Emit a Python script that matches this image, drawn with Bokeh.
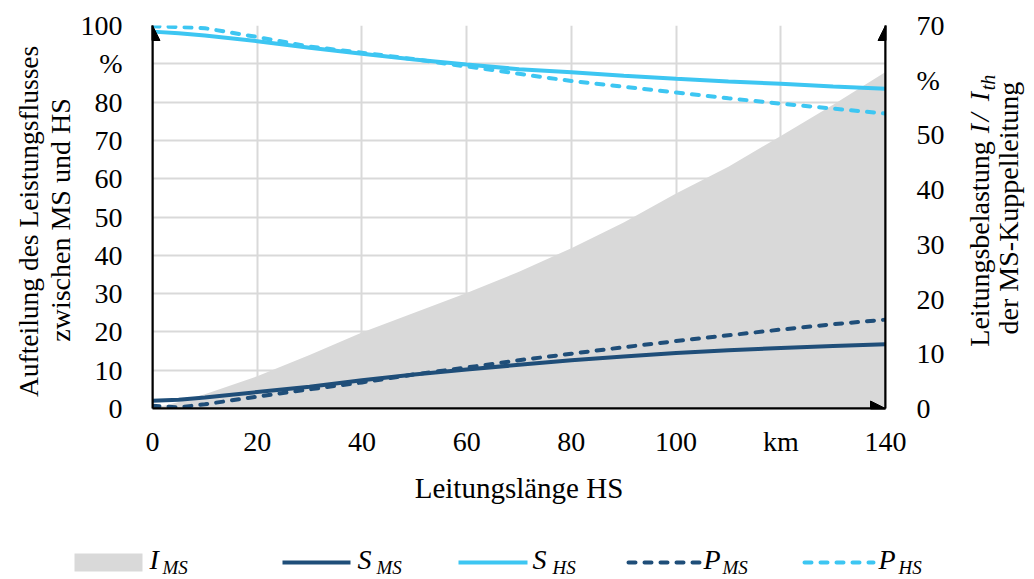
import math
from bokeh.plotting import figure
from bokeh.models import Range1d, LinearAxis, Arrow, NormalHead, FixedTicker
from bokeh.layouts import column, row
from bokeh.embed import file_html
from bokeh.resources import INLINE
from bokeh.core.properties import value

# ---------------- data ----------------
km   = [0, 5, 10, 20, 30, 40, 50, 60, 70, 80, 90, 100, 110, 120, 130, 140]
i_ms = [0, 1.2, 2.6, 5.9, 9.8, 13.9, 17.5, 21.1, 25.0, 29.3, 34.0, 39.3, 44.2, 49.8, 55.5, 61.5]   # right axis, %
s_ms = [2.0, 2.3, 2.9, 4.3, 5.7, 7.4, 8.9, 10.2, 11.4, 12.6, 13.6, 14.5, 15.2, 15.8, 16.3, 16.8]
s_hs = [98.4, 98.0, 97.4, 95.9, 94.2, 92.6, 91.1, 89.8, 88.6, 87.8, 86.9, 86.1, 85.4, 84.8, 84.1, 83.5]
p_ms = [0.7, 0.3, 1.1, 3.1, 5.0, 6.8, 8.9, 10.7, 12.6, 14.3, 16.0, 17.6, 19.1, 20.6, 22.0, 23.2]
p_hs = [99.8, 99.6, 99.3, 97.0, 94.5, 92.9, 91.2, 89.3, 87.4, 85.5, 84.0, 82.5, 81.0, 79.6, 78.3, 77.0]

x_ticks = [0, 20, 40, 60, 80, 100, 120, 140]
x_tick_labels = {120: "km"}
yl_ticks = [0, 10, 20, 30, 40, 50, 60, 70, 80, 90, 100]
yl_tick_labels = {90: "%"}
yr_ticks = [0, 10, 20, 30, 40, 50, 60, 70]
yr_tick_labels = {60: "%"}

x_title = "Leitungslänge HS"
left_title = ["Aufteilung  des Leistungsflusses", "zwischen MS und HS"]
right_title_1 = ["Leitungsbelastung", "I", "/", "I", "th"]
right_title_2 = "der MS-Kuppelleitung"
legend_main = ["I", "S", "S", "P", "P"]
legend_subs = ["MS", "MS", "HS", "MS", "HS"]

DARK = "#1F4E79"
LIGHT = "#3DC6F2"
GREY = "#D9D9D9"
FONT = "Liberation Serif"
FS = "28px"
H_MAIN = 506
B_TOP, B_BOT = 25, 97
LT_W = 77

def blank(width, height, top=0, bottom=0):
    f = figure(width=width, height=height, x_range=Range1d(0, width), y_range=Range1d(bottom, height - top),
               output_backend="svg", toolbar_location=None,
               x_axis_location=None, y_axis_location=None,
               min_border_left=0, min_border_right=0, min_border_top=top, min_border_bottom=bottom)
    f.grid.visible = False
    f.outline_line_color = None
    f.border_fill_color = "white"
    f.background_fill_color = "white"
    return f

# ---------------- main figure ----------------
p = figure(width=952 - LT_W, height=H_MAIN, x_range=Range1d(0, 140), y_range=Range1d(0, 100),
           output_backend="svg", toolbar_location=None,
           min_border_left=152 - LT_W, min_border_right=67, min_border_top=B_TOP, min_border_bottom=B_BOT)
p.extra_y_ranges = {"r": Range1d(0, 70)}
p.outline_line_color = None
p.background_fill_color = "white"
p.border_fill_color = "white"

p.varea(x=km, y1=[0] * len(km), y2=i_ms, y_range_name="r", fill_color=GREY)
p.line(km, s_hs, line_color=LIGHT, line_width=4)
p.line(km, p_hs, line_color=LIGHT, line_width=4, line_dash="7 9", line_cap="round")
p.line(km, s_ms, line_color=DARK, line_width=4)
p.line(km, p_ms, line_color=DARK, line_width=4, line_dash="7 9", line_cap="round")

def style_axis(ax, standoff):
    ax.major_label_text_font = FONT
    ax.major_label_text_font_size = FS
    ax.major_label_text_color = "black"
    ax.major_tick_line_color = None
    ax.minor_tick_line_color = None
    ax.axis_line_color = "black"
    ax.axis_line_width = 2
    ax.major_label_standoff = standoff

xa = p.xaxis[0]
xa.ticker = FixedTicker(ticks=x_ticks)
xa.major_label_overrides = x_tick_labels
style_axis(xa, 11)
xa.axis_label = x_title
xa.axis_label_text_font = FONT
xa.axis_label_text_font_size = "29px"
xa.axis_label_text_font_style = "normal"
xa.axis_label_text_color = "black"
xa.axis_label_standoff = 12

ya = p.yaxis[0]
ya.ticker = FixedTicker(ticks=yl_ticks)
ya.major_label_overrides = yl_tick_labels
style_axis(ya, 24)

ra = LinearAxis(y_range_name="r", ticker=FixedTicker(ticks=yr_ticks), major_label_overrides=yr_tick_labels)
style_axis(ra, 25)
p.add_layout(ra, "right")

p.xgrid.ticker = FixedTicker(ticks=x_ticks)
p.ygrid.ticker = FixedTicker(ticks=yl_ticks)
p.grid.grid_line_color = GREY
p.grid.grid_line_width = 2

for xs, ys, xe, ye in [(0, 0, 0, 100), (140, 0, 140, 100), (0, 0, 140, 0)]:
    p.add_layout(Arrow(end=NormalHead(size=15, fill_color="black", line_color="black"),
                       x_start=xs, y_start=ys, x_end=xe, y_end=ye,
                       line_color="black", line_width=2))

# ---------------- axis titles (side strips; data units = page pixels) ----------------
def vtext(f, xs, ys, texts, align="center", style="normal", size=FS):
    f.text(x=xs, y=ys, text=texts, angle=math.pi / 2, text_align=align, text_baseline="middle",
           text_font=value(FONT), text_font_size=size, text_font_style=style, text_color="black")

lt = blank(LT_W, H_MAIN, B_TOP, B_BOT)
vtext(lt, [27.5], [H_MAIN - 218], left_title[:1], size="27.5px")
vtext(lt, [60], [H_MAIN - 220], left_title[1:])

rt = blank(82, H_MAIN, B_TOP, B_BOT)   # page x 952..1034
vtext(rt, [978.5 - 952], [H_MAIN - 347], right_title_1[:1], align="left")
vtext(rt, [978.5 - 952] * 3, [H_MAIN - 133, H_MAIN - 121, H_MAIN - 101], right_title_1[1:4],
      align="left", style="italic")
vtext(rt, [987.5 - 952], [H_MAIN - 90], right_title_1[4:], align="left", style="italic", size="20px")
vtext(rt, [1007.5 - 952], [H_MAIN - 208], [right_title_2])

# ---------------- legend strip ----------------
LG_H = 72
lg = blank(1034, LG_H)
lg.quad(left=[74], right=[142], bottom=[7], top=[25], fill_color=GREY, line_color=None)
leg_lines = [(282, 350, DARK, None), (458, 527, LIGHT, None), (628, 700, DARK, "7 9"), (804, 873, LIGHT, "7 9")]
for x0, x1, col, dash in leg_lines:
    if dash:
        lg.line([x0, x1], [16, 16], line_color=col, line_width=4, line_dash=dash, line_cap="round")
    else:
        lg.line([x0, x1], [16, 16], line_color=col, line_width=4)

lg.text(x=[149, 357, 532, 703, 878], y=[19.5] * 5, text=legend_main, text_font=value(FONT),
        text_font_style="italic", text_font_size="28px", text_baseline="middle", text_color="black")
lg.text(x=[162, 376, 552, 722, 898], y=[11.5] * 5, text=legend_subs, text_font=value(FONT),
        text_font_style="italic", text_font_size="19px", text_baseline="middle", text_color="black")

layout = column(row(lt, p, rt), lg)
open("out.html", "w").write(file_html(layout, INLINE))
